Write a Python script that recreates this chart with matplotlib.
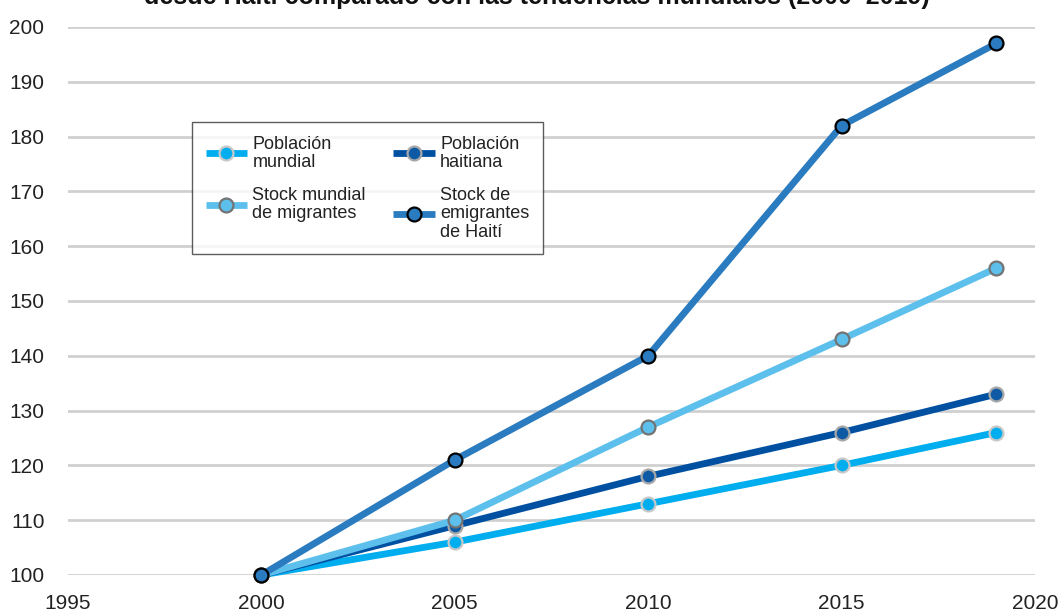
import matplotlib
matplotlib.use("Agg")
import matplotlib.pyplot as plt

years = [2000, 2005, 2010, 2015, 2019]
poblacion_mundial = [100, 106, 113, 120, 126]
poblacion_haitiana = [100, 109, 118, 126, 133]
stock_mundial = [100, 110, 127, 143, 156]
stock_haiti = [100, 121, 140, 182, 197]

labels = ["Población\nmundial", "Población\nhaitiana",
          "Stock mundial\nde migrantes", "Stock de\nemigrantes\nde Haití"]
xticks = [1995, 2000, 2005, 2010, 2015, 2020]
yticks = list(range(100, 201, 10))
title = "desde Haití comparado con las tendencias mundiales (2000–2019)"

plt.rcParams['font.family'] = ['Liberation Sans', 'DejaVu Sans']

fig = plt.figure(figsize=(10.6, 6.14), dpi=100)
ax = fig.add_axes([68/1060, 39/614, 967/1060, 548/614])

styles = [
    (poblacion_mundial, labels[0], "#00aeef", "#00aeef", "#c8c8c8"),
    (poblacion_haitiana, labels[1], "#0050a2", "#0f5aa5", "#a8a8a8"),
    (stock_mundial, labels[2], "#5dc0ec", "#5dc0ec", "#737373"),
    (stock_haiti, labels[3], "#2a7bbf", "#2a7bbf", "#000000"),
]
handles = {}
for i, (vals, lab, col, face, edge) in enumerate(styles):
    h, = ax.plot(years, vals, color=col, lw=4.9, marker="o", ms=10,
                 markerfacecolor=face, markeredgecolor=edge, markeredgewidth=1.6,
                 label=lab, zorder=3 + i, solid_capstyle="butt", clip_on=False)
    handles[lab] = h

ax.set_xlim(1995, 2020)
ax.set_ylim(100, 200)
ax.set_xticks(xticks)
ax.set_yticks(yticks)
ax.grid(axis="y", color="#d0d0d0", lw=2)
ax.set_axisbelow(True)
for s in ax.spines.values():
    s.set_visible(False)
ax.tick_params(length=0, labelsize=15, colors="#222222")
ax.tick_params(axis="y", pad=17)
ax.tick_params(axis="x", pad=14)

order = [labels[0], labels[2], labels[1], labels[3]]
leg = ax.legend([handles[l] for l in order], order, ncol=2, loc="upper left",
                bbox_to_anchor=((192-68)/967, 1-(122-27)/548), fontsize=13,
                frameon=True, fancybox=False, edgecolor="#333333",
                handlelength=2.3, columnspacing=1.5, labelspacing=0.9,
                borderpad=0.75, handletextpad=0.3, borderaxespad=0)
leg.get_frame().set_linewidth(1.0)
for t in leg.get_texts():
    t.set_linespacing(1.1)
    t.set_color("#222222")

fig.text(537/1060, 1.0 - 4/614, title, ha="center", va="baseline",
         fontsize=18, fontweight="bold", color="#111111")

fig.savefig("out.png", dpi=100)
